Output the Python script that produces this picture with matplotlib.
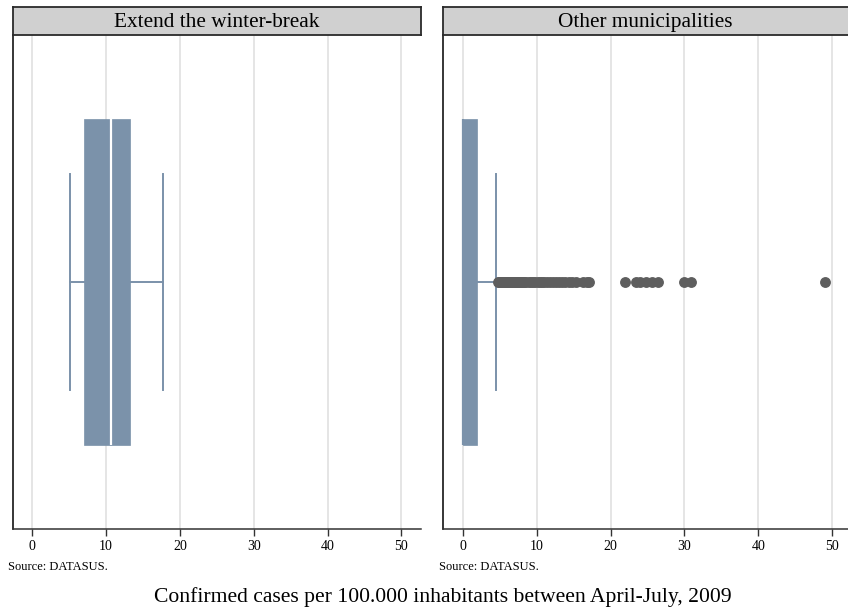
import matplotlib
matplotlib.use("Agg")
import matplotlib.pyplot as plt

plt.rcParams['font.family'] = ['Liberation Serif', 'DejaVu Serif']

panels = ["Extend the winter-break", "Other municipalities"]

# box statistics per panel (cases per 100.000 inhabitants)
q1 = [7.0, 0.0]
med = [10.7, 0.0]
q3 = [13.2, 1.85]
whislo = [5.05, 0.0]
whishi = [17.75, 4.42]
outliers_left = []
outliers_right = [4.7, 4.9, 5.1, 5.3, 5.5, 5.7, 5.9, 6.1, 6.3, 6.5, 6.7, 6.9, 7.1, 7.3,
                  7.5, 7.7, 7.9, 8.1, 8.3, 8.6, 8.9, 9.2, 9.5, 9.8, 10.1, 10.4, 10.7,
                  11.0, 11.4, 11.8, 12.2, 12.6, 13.0, 13.4, 13.8, 14.3, 14.8, 15.3,
                  16.3, 16.8, 17.1, 21.9, 23.5, 24.0, 24.8, 25.6, 26.4, 29.9, 30.9, 49.0]
fliers = [outliers_left, outliers_right]

xticks = [0, 10, 20, 30, 40, 50]
xlabel = "Confirmed cases per 100.000 inhabitants between April-July, 2009"
source = "Source: DATASUS."

W, H = 848, 614
fig = plt.figure(figsize=(W / 100, H / 100), dpi=100)

box_color = "#7b92aa"
pos = [(12.7, 421.3), (443.3, 852.0)]
top, bottom = 35, 529

for i in range(2):
    x0, x1 = pos[i]
    ax = fig.add_axes([x0 / W, 1 - bottom / H, (x1 - x0) / W, (bottom - top) / H])
    stats = [dict(q1=q1[i], med=med[i], q3=q3[i], whislo=whislo[i], whishi=whishi[i],
                  fliers=fliers[i], label="")]
    ax.bxp(stats, positions=[0], widths=1.316, capwidths=0.878,
           orientation='horizontal', patch_artist=True, showfliers=True,
           boxprops=dict(facecolor=box_color, edgecolor=box_color, linewidth=0.5),
           whiskerprops=dict(color=box_color, linewidth=1.4),
           capprops=dict(color=box_color, linewidth=1.4),
           medianprops=dict(color="white" if i == 0 else box_color, linewidth=1.6),
           flierprops=dict(marker='o', markerfacecolor="#5e5e5e", markeredgecolor="#5e5e5e",
                           markersize=6.8, linestyle='none'),
           zorder=3)
    ax.set_xlim(-2.66, 52.7)
    ax.set_ylim(-1, 1)
    ax.set_yticks([])
    ax.set_xticks(xticks)
    ax.set_xticklabels([str(t) for t in xticks], fontsize=10)
    ax.tick_params(axis='x', length=5, width=1, color="#333333", pad=3)
    ax.grid(axis='x', color="#e0e0e0", linewidth=1.2, zorder=0)
    ax.set_axisbelow(True)
    for s in ['top', 'right']:
        ax.spines[s].set_visible(False)
    ax.spines['left'].set_color('black')
    ax.spines['left'].set_linewidth(1.1)
    ax.spines['bottom'].set_color('#333333')
    ax.spines['bottom'].set_linewidth(1.1)

    # title strip
    sx = fig.add_axes([x0 / W, 1 - 35 / H, (x1 - x0) / W, 28 / H])
    sx.set_facecolor("#d0d0d0")
    sx.set_xticks([])
    sx.set_yticks([])
    for s in sx.spines.values():
        s.set_color("#2a2a2a")
        s.set_linewidth(1.3)
    cx = 0.5 if i == 0 else 0.5 * (848 - x0) / (x1 - x0)
    sx.text(cx, 0.3, panels[i], ha='center', va='baseline', fontsize=15.3,
            transform=sx.transAxes)

    fig.text((x0 - 4.5) / W, 1 - 567 / H, source, ha='left', va='center', fontsize=9)

fig.text(443 / W, 1 - 597 / H, xlabel, ha='center', va='center', fontsize=15.6)

fig.savefig("out.png", dpi=100)
